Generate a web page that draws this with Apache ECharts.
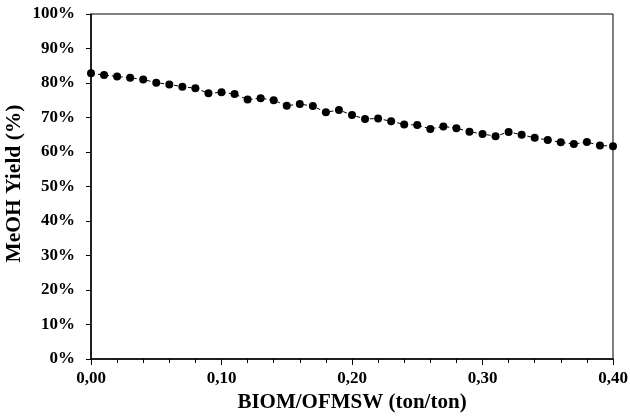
<!DOCTYPE html>
<html>
<head>
<meta charset="utf-8">
<script src="https://cdn.jsdelivr.net/npm/echarts@6/dist/echarts.min.js"></script>
<style>html,body{margin:0;padding:0;background:#fff}#c{width:630px;height:416px}</style>
</head>
<body>
<div id="c"></div>
<script>
const ratios = [0.00,0.01,0.02,0.03,0.04,0.05,0.06,0.07,0.08,0.09,0.10,0.11,0.12,0.13,0.14,0.15,0.16,0.17,0.18,0.19,0.20,0.21,0.22,0.23,0.24,0.25,0.26,0.27,0.28,0.29,0.30,0.31,0.32,0.33,0.34,0.35,0.36,0.37,0.38,0.39,0.40];
const yieldPct = [82.8,82.3,81.9,81.5,81.0,80.1,79.6,78.9,78.5,77.0,77.3,76.8,75.2,75.6,75.0,73.4,73.9,73.3,71.5,72.2,70.7,69.6,69.7,68.9,68.0,67.8,66.7,67.4,66.9,65.9,65.2,64.6,65.8,65.0,64.1,63.5,62.8,62.3,62.9,61.9,61.7];
const xTitle = 'BIOM/OFMSW (ton/ton)';
const yTitle = 'MeOH Yield (%)';

const font = 'Liberation Serif';
const chart = echarts.init(document.getElementById('c'));
chart.setOption({
  animation: false,
  grid: {left: 91, right: 17, top: 14, bottom: 57, show: true, borderColor: '#000', borderWidth: 1,
    containLabel: false, outerBoundsMode: 'none'},
  xAxis: {
    type: 'value', min: 0, max: 0.4, interval: 0.1,
    name: xTitle, nameLocation: 'middle', nameGap: 33,
    nameTextStyle: {fontFamily: font, fontWeight: 'bold', fontSize: 21, color: '#000'},
    axisLine: {show: true, onZero: false, lineStyle: {color: '#000', width: 1.5}},
    axisTick: {show: true, inside: false, length: 6, lineStyle: {color: '#000'}},
    minorTick: {show: true, splitNumber: 5, length: 4, lineStyle: {color: '#000'}},
    splitLine: {show: false},
    axisLabel: {fontFamily: font, fontWeight: 'bold', fontSize: 17, color: '#000', margin: 11,
      formatter: v => v.toFixed(2).replace('.', ',')}
  },
  yAxis: {
    type: 'value', min: 0, max: 100, interval: 10,
    name: yTitle, nameLocation: 'middle', nameGap: 66, nameMoveOverlap: false,
    nameTextStyle: {fontFamily: font, fontWeight: 'bold', fontSize: 21.5, color: '#000', padding: [0, 0, 0, 6]},
    axisLine: {show: true, lineStyle: {color: '#000', width: 1.5}},
    axisTick: {show: true, inside: false, length: 5, lineStyle: {color: '#000'}},
    splitLine: {show: false},
    axisLabel: {fontFamily: font, fontWeight: 'bold', fontSize: 17, color: '#000', margin: 16,
      formatter: '{value}%'}
  },
  series: [{
    type: 'line',
    data: ratios.map((x, i) => [x, yieldPct[i]]),
    symbol: 'circle', symbolSize: 8,
    itemStyle: {color: '#000'},
    lineStyle: {color: '#000', width: 1, type: [4, 3]},
    clip: false
  }]
});
</script>
</body>
</html>
